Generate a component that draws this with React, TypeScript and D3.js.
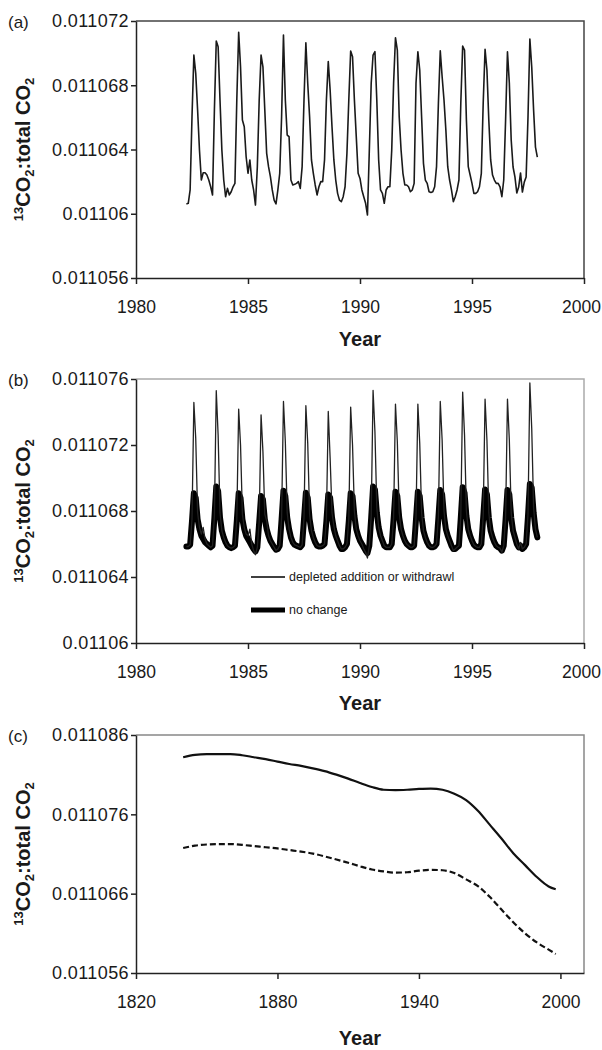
import React, { useRef, useEffect } from "react";
import * as d3 from "d3";

const W = 602;
const H = 1050;
const FONT = "'Liberation Sans', Arial, sans-serif";
const LEFT = 136;
const RIGHT = 584;

// panel (a): monthly 13CO2:total CO2, Apr 1982 - Dec 1997
const startA = 1982.25;
const ratioA = [
  0.01106061, 0.01106065, 0.01106148, 0.01106604, 0.01106988, 0.01106874, 0.01106646, 0.01106397, 0.0110621,
  0.01106255, 0.01106255, 0.01106241, 0.0110621, 0.01106168, 0.01106117, 0.01106646, 0.01107075, 0.0110704, 0.01106708, 0.01106397, 0.0110621,
  0.01106106, 0.01106158, 0.01106117, 0.01106137, 0.01106168, 0.01106189, 0.01106708, 0.0110713, 0.01106915, 0.01106584, 0.01106542, 0.01106355,
  0.01106252, 0.01106335, 0.0110621, 0.01106148, 0.01106054, 0.01106293, 0.01106708, 0.01106988, 0.01106915, 0.01106646, 0.01106376, 0.01106293,
  0.01106231, 0.01106148, 0.01106085, 0.01106061, 0.01106148, 0.01106252, 0.01106604, 0.01107113, 0.01106708, 0.0110649, 0.0110648, 0.0110621,
  0.01106179, 0.01106183, 0.01106189, 0.011062, 0.01106158, 0.01106293, 0.01106708, 0.01107065, 0.01106812, 0.01106604, 0.01106335, 0.01106252,
  0.01106179, 0.01106117, 0.01106168, 0.011062, 0.011062, 0.01106335, 0.01106708, 0.01106947, 0.0110677, 0.01106542, 0.01106335, 0.0110621,
  0.01106127, 0.01106085, 0.01106075, 0.01106106, 0.01106168, 0.01106376, 0.01106708, 0.01107013, 0.01106978, 0.01106708, 0.0110648, 0.01106252,
  0.0110622, 0.01106148, 0.01106106, 0.01106065, 0.01105992, 0.01106397, 0.01106812, 0.01106988, 0.01107009, 0.01106708, 0.01106335, 0.01106148,
  0.01106127, 0.01106065, 0.01106148, 0.01106168, 0.01106168, 0.01106397, 0.01106812, 0.01107096, 0.01107019, 0.01106604, 0.01106397, 0.01106252,
  0.01106179, 0.01106179, 0.01106168, 0.01106137, 0.01106148, 0.01106189, 0.01106812, 0.01107009, 0.01106895, 0.01106604, 0.01106314, 0.0110621,
  0.01106189, 0.01106137, 0.01106133, 0.01106137, 0.01106168, 0.01106293, 0.01106688, 0.01107015, 0.01106853, 0.01106708, 0.01106521, 0.01106293,
  0.0110621, 0.01106148, 0.01106075, 0.01106106, 0.01106148, 0.0110621, 0.01106688, 0.01107044, 0.01107019, 0.01106584, 0.01106293, 0.01106241,
  0.01106189, 0.01106127, 0.01106127, 0.01106137, 0.01106168, 0.01106252, 0.01106688, 0.01107024, 0.01106895, 0.01106584, 0.01106335, 0.01106241,
  0.0110621, 0.01106189, 0.01106189, 0.01106168, 0.01106106, 0.0110621, 0.01106584, 0.01107009, 0.01106814, 0.01106459, 0.01106291, 0.01106229,
  0.01106129, 0.01106166, 0.01106254, 0.01106135, 0.01106197, 0.01106229, 0.01106602, 0.01107088, 0.01106914, 0.01106646, 0.01106415, 0.01106353,
];
const yTicksA = [0.011056, 0.01106, 0.011064, 0.011068, 0.011072];
const yLabelsA = ["0.011056", "0.01106", "0.011064", "0.011068", "0.011072"];
const xTicksAB = [1980, 1985, 1990, 1995, 2000];

// panel (b): same months, two scenarios
const startB = 1982.25;
const depleted = [
  0.01106585, 0.01106585, 0.01106595, 0.0110675, 0.01107458, 0.0110724, 0.0110679, 0.011067, 0.0110666,
  0.011067, 0.0110663, 0.011066, 0.0110659, 0.0110658, 0.0110659, 0.0110677, 0.01107529, 0.0110726, 0.0110679, 0.0110668, 0.0110664,
  0.0110661, 0.0110659, 0.0110658, 0.01106575, 0.0110658, 0.0110659, 0.0110675, 0.01107418, 0.011072, 0.0110678, 0.011067, 0.0110666,
  0.0110665, 0.0110669, 0.011066, 0.0110656, 0.01106535, 0.0110658, 0.0110674, 0.01107383, 0.0110716, 0.0110678, 0.0110674, 0.0110665,
  0.0110662, 0.011066, 0.0110658, 0.0110656, 0.0110657, 0.0110659, 0.0110676, 0.01107464, 0.0110722, 0.0110679, 0.0110669, 0.0110664,
  0.0110661, 0.01106595, 0.0110659, 0.01106585, 0.0110658, 0.01106595, 0.0110676, 0.01107438, 0.0110721, 0.0110678, 0.0110668, 0.0110664,
  0.0110661, 0.0110659, 0.01106585, 0.01106585, 0.0110659, 0.011066, 0.0110675, 0.01107403, 0.0110712, 0.0110679, 0.0110671, 0.0110665,
  0.0110662, 0.0110659, 0.0110657, 0.0110657, 0.0110658, 0.011066, 0.0110675, 0.0110743, 0.011072, 0.011068, 0.0110669, 0.0110665,
  0.0110662, 0.011066, 0.0110657, 0.0110655, 0.01106515, 0.0110659, 0.0110677, 0.01107531, 0.0110728, 0.0110682, 0.011067, 0.0110665,
  0.0110662, 0.0110659, 0.0110658, 0.0110658, 0.0110658, 0.011066, 0.0110676, 0.01107448, 0.0110722, 0.0110679, 0.0110669, 0.0110665,
  0.0110662, 0.011066, 0.0110659, 0.0110658, 0.0110658, 0.0110659, 0.0110676, 0.01107448, 0.0110721, 0.0110679, 0.0110668, 0.0110664,
  0.0110661, 0.0110659, 0.0110658, 0.0110658, 0.01106585, 0.011066, 0.0110677, 0.01107464, 0.0110723, 0.011068, 0.0110669, 0.0110665,
  0.0110662, 0.0110659, 0.0110656, 0.0110657, 0.0110658, 0.0110659, 0.0110677, 0.01107521, 0.0110726, 0.011068, 0.0110669, 0.0110665,
  0.0110662, 0.01106595, 0.01106585, 0.0110658, 0.0110658, 0.011066, 0.0110677, 0.01107478, 0.0110723, 0.0110679, 0.0110668, 0.0110664,
  0.0110661, 0.0110659, 0.0110658, 0.01106575, 0.0110655, 0.0110659, 0.0110676, 0.01107478, 0.0110723, 0.0110679, 0.0110668, 0.0110664,
  0.011066, 0.0110657, 0.0110661, 0.0110657, 0.0110658, 0.011066, 0.0110678, 0.01107576, 0.011073, 0.0110682, 0.0110669, 0.0110664,
];
const noChange = [
  0.01106585, 0.01106585, 0.01106595, 0.0110674, 0.01106907, 0.0110688, 0.0110675, 0.0110669, 0.0110665,
  0.0110663, 0.0110661, 0.011066, 0.0110659, 0.0110658, 0.0110659, 0.0110676, 0.01106948, 0.0110692, 0.0110676, 0.0110668, 0.0110664,
  0.0110661, 0.0110659, 0.0110658, 0.01106575, 0.0110658, 0.0110659, 0.0110674, 0.01106907, 0.0110688, 0.0110675, 0.0110669, 0.0110665,
  0.0110663, 0.0110661, 0.0110659, 0.0110657, 0.01106555, 0.0110658, 0.0110673, 0.01106891, 0.0110687, 0.0110675, 0.0110669, 0.0110665,
  0.0110662, 0.011066, 0.0110658, 0.01106565, 0.0110657, 0.0110659, 0.0110675, 0.01106923, 0.0110689, 0.0110676, 0.0110669, 0.0110664,
  0.0110661, 0.01106595, 0.0110659, 0.01106585, 0.0110658, 0.01106595, 0.0110675, 0.01106911, 0.0110688, 0.0110675, 0.0110668, 0.0110664,
  0.0110661, 0.0110659, 0.01106585, 0.01106585, 0.0110659, 0.011066, 0.0110674, 0.011069, 0.0110688, 0.0110676, 0.0110669, 0.0110665,
  0.0110662, 0.0110659, 0.0110657, 0.0110657, 0.0110658, 0.011066, 0.0110674, 0.01106907, 0.0110689, 0.0110677, 0.0110669, 0.0110665,
  0.0110662, 0.011066, 0.0110658, 0.0110656, 0.01106545, 0.0110659, 0.0110676, 0.01106948, 0.0110693, 0.0110679, 0.011067, 0.0110665,
  0.0110662, 0.0110659, 0.0110658, 0.0110658, 0.0110658, 0.011066, 0.0110675, 0.01106917, 0.0110689, 0.0110676, 0.0110669, 0.0110665,
  0.0110662, 0.011066, 0.0110659, 0.0110658, 0.0110658, 0.0110659, 0.0110675, 0.01106917, 0.0110689, 0.0110676, 0.0110668, 0.0110664,
  0.0110661, 0.0110659, 0.0110658, 0.0110658, 0.01106585, 0.011066, 0.0110676, 0.01106927, 0.011069, 0.0110677, 0.0110669, 0.0110665,
  0.0110662, 0.0110659, 0.0110657, 0.0110657, 0.0110658, 0.0110659, 0.0110676, 0.01106944, 0.0110691, 0.0110677, 0.0110669, 0.0110665,
  0.0110662, 0.01106595, 0.01106585, 0.0110658, 0.0110658, 0.011066, 0.0110676, 0.01106931, 0.011069, 0.0110676, 0.0110668, 0.0110664,
  0.0110661, 0.0110659, 0.0110658, 0.01106575, 0.0110656, 0.0110659, 0.0110675, 0.01106927, 0.011069, 0.0110676, 0.0110668, 0.0110664,
  0.011066, 0.0110658, 0.0110659, 0.0110657, 0.0110658, 0.011066, 0.0110677, 0.01106964, 0.0110694, 0.0110679, 0.0110669, 0.0110664,
];
const yTicksB = [0.01106, 0.011064, 0.011068, 0.011072, 0.011076];
const yLabelsB = ["0.01106", "0.011064", "0.011068", "0.011072", "0.011076"];
const legendB = ["depleted addition or withdrawl", "no change"];

// panel (c): long record, two curves
const yearsC = [
  1840, 1845, 1850, 1855, 1860, 1865, 1870, 1875, 1880, 1885, 1890, 1895, 1900, 1905, 1910, 1915, 1920,
  1925, 1930, 1935, 1940, 1945, 1950, 1955, 1960, 1965, 1970, 1975, 1980, 1985, 1990, 1995, 1998,
];
const upperC = [
  0.0110832, 0.0110835, 0.0110836, 0.0110836, 0.0110836, 0.01108345, 0.0110832, 0.01108295, 0.01108265,
  0.01108235, 0.0110821, 0.0110818, 0.01108145, 0.011081, 0.0110805, 0.01107995, 0.01107945, 0.0110791,
  0.01107905, 0.0110791, 0.0110792, 0.01107925, 0.0110791, 0.0110786, 0.0110778, 0.01107645, 0.0110747,
  0.01107295, 0.0110711, 0.0110696, 0.0110681, 0.0110669, 0.01106655,
];
const lowerC = [
  0.01107175, 0.01107205, 0.0110722, 0.01107225, 0.01107225, 0.01107215, 0.011072, 0.01107185, 0.0110717,
  0.0110715, 0.0110713, 0.01107105, 0.0110707, 0.0110703, 0.0110699, 0.01106945, 0.01106905, 0.0110688,
  0.01106865, 0.0110687, 0.0110689, 0.011069, 0.01106895, 0.0110686, 0.0110678, 0.01106695, 0.0110656,
  0.011064, 0.0110624, 0.011061, 0.01105985, 0.01105895, 0.0110584,
];
const xTicksC = [1820, 1880, 1940, 2000];
const yTicksC = [0.011056, 0.011066, 0.011076, 0.011086];
const yLabelsC = ["0.011056", "0.011066", "0.011076", "0.011086"];

function drawPanel(svg, o) {
  const x = d3.scaleLinear().domain(o.xDomain).range([LEFT, RIGHT]);
  const y = d3.scaleLinear().domain(o.yDomain).range([o.bottom, o.top]);
  const g = svg.append("g");

  // plot-area frame (top and right)
  g.append("path")
    .attr("d", `M${LEFT},${o.top}H${RIGHT}V${o.bottom}`)
    .attr("fill", "none")
    .attr("stroke", o.frame)
    .attr("stroke-width", 1.5);

  const ax = g
    .append("g")
    .attr("transform", `translate(0,${o.bottom})`)
    .call(d3.axisBottom(x).tickValues(o.xTicks).tickFormat(d3.format("d")).tickSize(6).tickSizeOuter(0));
  const ay = g
    .append("g")
    .attr("transform", `translate(${LEFT},0)`)
    .call(
      d3.axisLeft(y).tickValues(o.yTicks).tickFormat((d, i) => o.yLabels[i]).tickSize(5).tickSizeOuter(0)
    );
  [ax, ay].forEach((a) => {
    a.select(".domain").attr("stroke", "#222").attr("stroke-width", 1.5);
    a.selectAll(".tick line").attr("stroke", "#222").attr("stroke-width", 1.5);
    a.selectAll("text").attr("font-family", FONT).attr("fill", "#1a1a1a");
  });
  ax.selectAll("text").attr("font-size", 17.5).attr("y", 23);
  // keep the right-most year inside the page edge
  ax.selectAll(".tick text").filter((d) => x(d) > RIGHT - 10).attr("dx", -3);
  ay.selectAll("text").attr("font-size", 18).attr("x", -7).attr("letter-spacing", 0.4);

  // panel letter
  svg.append("text").attr("x", 8).attr("y", o.top + 7).attr("font-family", FONT)
    .attr("font-size", 17).attr("fill", "#1a1a1a").text(o.letter);

  // y title with super/subscripts
  const t = svg.append("text")
    .attr("transform", `translate(30,${(o.top + o.bottom) / 2}) rotate(-90)`)
    .attr("text-anchor", "middle").attr("font-family", FONT).attr("font-weight", "bold")
    .attr("font-size", 20).attr("fill", "#1a1a1a");
  t.append("tspan").attr("font-size", 13).attr("dy", -7).text("13");
  t.append("tspan").attr("dy", 7).text("CO");
  t.append("tspan").attr("font-size", 13).attr("dy", 4).text("2");
  t.append("tspan").attr("dy", -4).text(":total CO");
  t.append("tspan").attr("font-size", 13).attr("dy", 4).text("2");

  // x title
  svg.append("text").attr("x", (LEFT + RIGHT) / 2).attr("y", o.yearY).attr("text-anchor", "middle")
    .attr("font-family", FONT).attr("font-weight", "bold").attr("font-size", 20)
    .attr("fill", "#1a1a1a").text("Year");

  return { x, y, g };
}

export default function App() {
  const svgRef = useRef(null);

  useEffect(() => {
    const svg = d3.select(svgRef.current);
    svg.selectAll("*").remove();

    // (a)
    const a = drawPanel(svg, {
      top: 21, bottom: 278, xDomain: [1980, 2000], yDomain: [0.011056, 0.011072],
      xTicks: xTicksAB, yTicks: yTicksA, yLabels: yLabelsA, frame: "#444", letter: "(a)", yearY: 346,
    });
    const lineA = d3.line().x((d, i) => a.x(startA + i / 12)).y((d) => a.y(d));
    a.g.append("path").datum(ratioA).attr("d", lineA).attr("fill", "none")
      .attr("stroke", "#1a1a1a").attr("stroke-width", 1.6).attr("stroke-linejoin", "round");

    // (b)
    const b = drawPanel(svg, {
      top: 379, bottom: 643, xDomain: [1980, 2000], yDomain: [0.01106, 0.011076],
      xTicks: xTicksAB, yTicks: yTicksB, yLabels: yLabelsB, frame: "#aaa", letter: "(b)", yearY: 710,
    });
    const lineB = d3.line().x((d, i) => b.x(startB + i / 12)).y((d) => b.y(d));
    b.g.append("path").datum(noChange).attr("d", lineB).attr("fill", "none")
      .attr("stroke", "#000").attr("stroke-width", 6).attr("stroke-linejoin", "round").attr("stroke-linecap", "round");
    b.g.append("path").datum(depleted).attr("d", lineB).attr("fill", "none")
      .attr("stroke", "#222").attr("stroke-width", 1.3).attr("stroke-linejoin", "round");
    const leg = b.g.append("g");
    legendB.forEach((label, i) => {
      const ly = 577 + i * 33;
      leg.append("line").attr("x1", 251).attr("x2", 285).attr("y1", ly).attr("y2", ly)
        .attr("stroke", "#000").attr("stroke-width", i === 0 ? 1.3 : 5);
      leg.append("text").attr("x", 289).attr("y", ly + 4).attr("font-family", FONT)
        .attr("font-size", 12.5).attr("fill", "#1a1a1a").text(label);
    });

    // (c)
    const c = drawPanel(svg, {
      top: 735, bottom: 973, xDomain: [1820, 2010], yDomain: [0.011056, 0.011086],
      xTicks: xTicksC, yTicks: yTicksC, yLabels: yLabelsC, frame: "#888", letter: "(c)", yearY: 1045,
    });
    const lineC = (vals) =>
      d3.line().x((d, i) => c.x(yearsC[i])).y((d) => c.y(d)).curve(d3.curveMonotoneX)(vals);
    c.g.append("path").attr("d", lineC(upperC)).attr("fill", "none")
      .attr("stroke", "#111").attr("stroke-width", 2.2);
    c.g.append("path").attr("d", lineC(lowerC)).attr("fill", "none")
      .attr("stroke", "#111").attr("stroke-width", 2.2).attr("stroke-dasharray", "6,3");
  }, []);

  return (
    <svg
      ref={svgRef}
      width={W}
      height={H}
      style={{ position: "absolute", left: 0, top: 0, background: "#fff" }}
    />
  );
}
